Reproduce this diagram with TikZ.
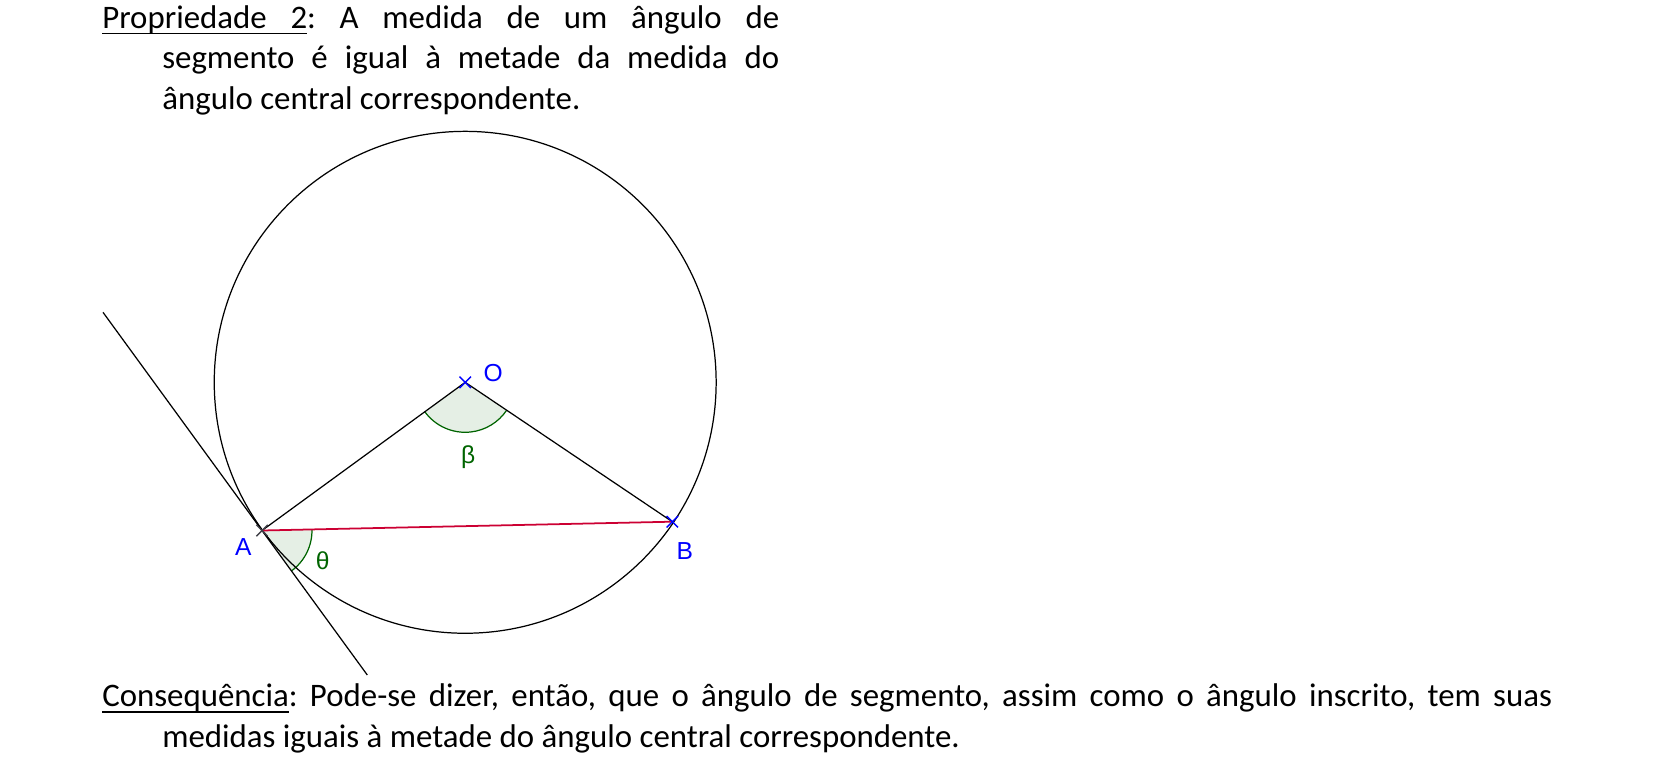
\documentclass[tikz,border=0pt]{standalone}
\usepackage{fontspec}
\setmainfont{Carlito}
\newfontfamily\geofont{Liberation Sans}
\usepackage{tikz}
\usetikzlibrary{positioning, angles, shapes.misc}
\definecolor{ptblue}{RGB}{0,0,255}
\definecolor{anggreen}{RGB}{0,100,0}
\definecolor{segred}{RGB}{204,0,51}
\definecolor{ptgray}{RGB}{64,64,72}

% underline with a stretchable space inside
\newbox\ulbox
\newcommand\ulword[1]{\setbox\ulbox\hbox{#1}\rlap{\rule[-3.3pt]{\wd\ulbox}{0.8pt}}\box\ulbox}
\newcommand\ulspace{\leaders\hrule height -2.5pt depth 3.3pt
  \hskip\fontdimen2\font plus\fontdimen3\font minus\fontdimen4\font}
\newcommand\hang{\hangindent=1.2cm\hangafter=1\par}

\tikzset{
  txt/.style={inner sep=0pt, anchor=base west, align=justify,
    font=\fontsize{18.7pt}{23pt}\selectfont\frenchspacing},
  lbl/.style={inner sep=0pt, font=\geofont\fontsize{14pt}{16pt}\selectfont},
  ptmark/.style={cross out, draw, line width=0.8pt, minimum size=0.2cm, inner sep=0pt},
  ang/.style={draw=anggreen, fill=anggreen!10, line width=0.7pt, angle radius=1cm},
}

\begin{document}
\begin{tikzpicture}[x=0.02cm, y=-0.02cm, line width=0.7pt]
\useasboundingbox (0,0) rectangle (1653,767);
\coordinate (O) at (465.2,382.3);
\coordinate (A) at (262,530.5);
\coordinate (B) at (672.3,521.7);
\coordinate (T1) at (103,312.3);
\coordinate (T2) at (367.3,675);
% angles
\pic[ang] {angle = A--O--B};
\pic[ang] {angle = T2--A--B};
% circle, tangent, radii
\draw (O) circle[radius=5.02cm];
\draw (T1) -- (T2);
\draw (A) -- (O) -- (B);
\draw[segred, line width=1pt] (A) -- (B);
% points
\node[ptmark, draw=ptblue] (Om) at (O) {};
\node[ptmark, draw=ptblue] (Bm) at (B) {};
\node[ptmark, draw=ptgray] (Am) at (A) {};
% labels
\node[lbl, ptblue] (Olbl) at (493.3,373.3) {O};
\node[lbl, ptblue] (Albl) at (243.3,546.7) {A};
\node[lbl, ptblue] (Blbl) at (684.7,550.7) {B};
\node[lbl, anggreen] (beta) at (468.3,456.7) {β};
\node[lbl, anggreen] (theta) at (322.7,560.7) {θ};
% texts
\node[txt, text width=13.54cm] (prop) at (101.7,28.3) {\ulword{Propriedade}\ulspace\ulword{2}: A medida de um ângulo de\linebreak segmento é igual à metade da medida do\linebreak ângulo central correspondente.\hang};
\node[txt, text width=29cm] (cons) at (101.7,706.7) {\ulword{Consequência}: Pode-se dizer, então, que o ângulo de segmento, assim como o ângulo inscrito, tem suas\linebreak medidas iguais à metade do ângulo central correspondente.\hang};
\end{tikzpicture}
\end{document}
